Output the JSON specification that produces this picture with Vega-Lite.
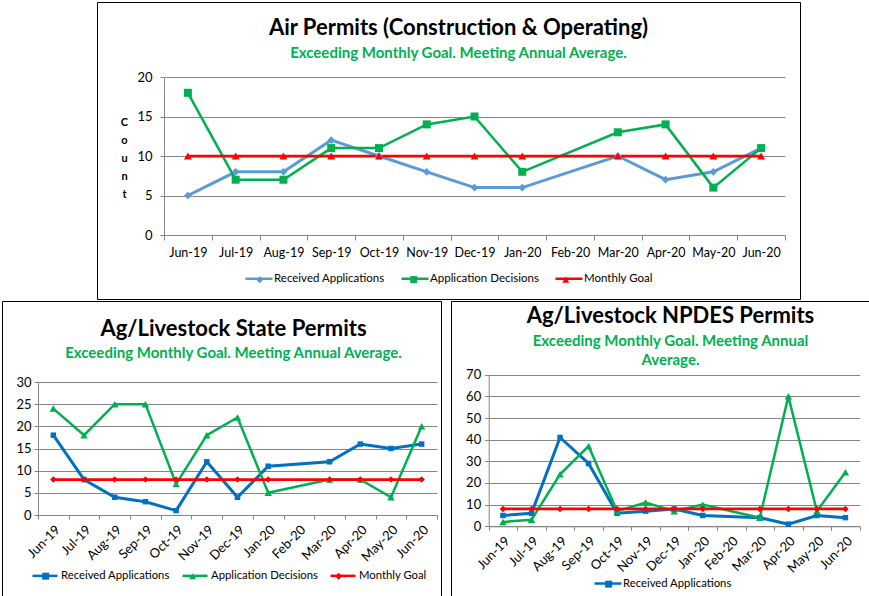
{
  "$schema": "https://vega.github.io/schema/vega-lite/v6.json",
  "padding": {"left": 1, "top": 1, "right": 0, "bottom": 0},
  "background": "white",
  "spacing": 0,
  "resolve": {"scale": {"color": "independent", "fill": "independent", "stroke": "independent", "shape": "independent", "size": "independent", "strokeWidth": "independent"}, "legend": {"color": "independent", "fill": "independent", "stroke": "independent", "shape": "independent", "size": "independent", "strokeWidth": "independent"}},
  "config": {
    "font": "Lato",
    "view": {"stroke": "#000000", "strokeWidth": 1},
    "title": {"fontWeight": "bold", "color": "#000000", "subtitleColor": "#00B050", "subtitleFontWeight": "bold", "subtitleFont": "Lato", "font": "Lato"},
    "axis": {"labelColor": "#000000", "domainColor": "#868686", "tickColor": "#868686", "gridColor": "#868686", "labelOverlap": false, "labelFont": "Lato"},
    "legend": {"labelColor": "#000000", "labelFont": "Lato", "symbolOpacity": 1, "padding": 0, "direction": "horizontal", "title": null, "orient": "none", "rowPadding": 0}
  },
  "datasets": {
    "air": [
      {"month": "Jun-19", "series": "Received Applications", "value": 5},
      {"month": "Jul-19", "series": "Received Applications", "value": 8},
      {"month": "Aug-19", "series": "Received Applications", "value": 8},
      {"month": "Sep-19", "series": "Received Applications", "value": 12},
      {"month": "Oct-19", "series": "Received Applications", "value": 10},
      {"month": "Nov-19", "series": "Received Applications", "value": 8},
      {"month": "Dec-19", "series": "Received Applications", "value": 6},
      {"month": "Jan-20", "series": "Received Applications", "value": 6},
      {"month": "Mar-20", "series": "Received Applications", "value": 10},
      {"month": "Apr-20", "series": "Received Applications", "value": 7},
      {"month": "May-20", "series": "Received Applications", "value": 8},
      {"month": "Jun-20", "series": "Received Applications", "value": 11},
      {"month": "Jun-19", "series": "Application Decisions", "value": 18},
      {"month": "Jul-19", "series": "Application Decisions", "value": 7},
      {"month": "Aug-19", "series": "Application Decisions", "value": 7},
      {"month": "Sep-19", "series": "Application Decisions", "value": 11},
      {"month": "Oct-19", "series": "Application Decisions", "value": 11},
      {"month": "Nov-19", "series": "Application Decisions", "value": 14},
      {"month": "Dec-19", "series": "Application Decisions", "value": 15},
      {"month": "Jan-20", "series": "Application Decisions", "value": 8},
      {"month": "Mar-20", "series": "Application Decisions", "value": 13},
      {"month": "Apr-20", "series": "Application Decisions", "value": 14},
      {"month": "May-20", "series": "Application Decisions", "value": 6},
      {"month": "Jun-20", "series": "Application Decisions", "value": 11},
      {"month": "Jun-19", "series": "Monthly Goal", "value": 10},
      {"month": "Jul-19", "series": "Monthly Goal", "value": 10},
      {"month": "Aug-19", "series": "Monthly Goal", "value": 10},
      {"month": "Sep-19", "series": "Monthly Goal", "value": 10},
      {"month": "Oct-19", "series": "Monthly Goal", "value": 10},
      {"month": "Nov-19", "series": "Monthly Goal", "value": 10},
      {"month": "Dec-19", "series": "Monthly Goal", "value": 10},
      {"month": "Jan-20", "series": "Monthly Goal", "value": 10},
      {"month": "Mar-20", "series": "Monthly Goal", "value": 10},
      {"month": "Apr-20", "series": "Monthly Goal", "value": 10},
      {"month": "May-20", "series": "Monthly Goal", "value": 10},
      {"month": "Jun-20", "series": "Monthly Goal", "value": 10}
    ],
    "state": [
      {"month": "Jun-19", "series": "Received Applications", "value": 18},
      {"month": "Jul-19", "series": "Received Applications", "value": 8},
      {"month": "Aug-19", "series": "Received Applications", "value": 4},
      {"month": "Sep-19", "series": "Received Applications", "value": 3},
      {"month": "Oct-19", "series": "Received Applications", "value": 1},
      {"month": "Nov-19", "series": "Received Applications", "value": 12},
      {"month": "Dec-19", "series": "Received Applications", "value": 4},
      {"month": "Jan-20", "series": "Received Applications", "value": 11},
      {"month": "Mar-20", "series": "Received Applications", "value": 12},
      {"month": "Apr-20", "series": "Received Applications", "value": 16},
      {"month": "May-20", "series": "Received Applications", "value": 15},
      {"month": "Jun-20", "series": "Received Applications", "value": 16},
      {"month": "Jun-19", "series": "Application Decisions", "value": 24},
      {"month": "Jul-19", "series": "Application Decisions", "value": 18},
      {"month": "Aug-19", "series": "Application Decisions", "value": 25},
      {"month": "Sep-19", "series": "Application Decisions", "value": 25},
      {"month": "Oct-19", "series": "Application Decisions", "value": 7},
      {"month": "Nov-19", "series": "Application Decisions", "value": 18},
      {"month": "Dec-19", "series": "Application Decisions", "value": 22},
      {"month": "Jan-20", "series": "Application Decisions", "value": 5},
      {"month": "Mar-20", "series": "Application Decisions", "value": 8},
      {"month": "Apr-20", "series": "Application Decisions", "value": 8},
      {"month": "May-20", "series": "Application Decisions", "value": 4},
      {"month": "Jun-20", "series": "Application Decisions", "value": 20},
      {"month": "Jun-19", "series": "Monthly Goal", "value": 8},
      {"month": "Jul-19", "series": "Monthly Goal", "value": 8},
      {"month": "Aug-19", "series": "Monthly Goal", "value": 8},
      {"month": "Sep-19", "series": "Monthly Goal", "value": 8},
      {"month": "Oct-19", "series": "Monthly Goal", "value": 8},
      {"month": "Nov-19", "series": "Monthly Goal", "value": 8},
      {"month": "Dec-19", "series": "Monthly Goal", "value": 8},
      {"month": "Jan-20", "series": "Monthly Goal", "value": 8},
      {"month": "Mar-20", "series": "Monthly Goal", "value": 8},
      {"month": "Apr-20", "series": "Monthly Goal", "value": 8},
      {"month": "May-20", "series": "Monthly Goal", "value": 8},
      {"month": "Jun-20", "series": "Monthly Goal", "value": 8}
    ],
    "npdes": [
      {"month": "Jun-19", "series": "Received Applications", "value": 5},
      {"month": "Jul-19", "series": "Received Applications", "value": 6},
      {"month": "Aug-19", "series": "Received Applications", "value": 41},
      {"month": "Sep-19", "series": "Received Applications", "value": 29},
      {"month": "Oct-19", "series": "Received Applications", "value": 6},
      {"month": "Nov-19", "series": "Received Applications", "value": 7},
      {"month": "Dec-19", "series": "Received Applications", "value": 8},
      {"month": "Jan-20", "series": "Received Applications", "value": 5},
      {"month": "Mar-20", "series": "Received Applications", "value": 4},
      {"month": "Apr-20", "series": "Received Applications", "value": 1},
      {"month": "May-20", "series": "Received Applications", "value": 5},
      {"month": "Jun-20", "series": "Received Applications", "value": 4},
      {"month": "Jun-19", "series": "Application Decisions", "value": 2},
      {"month": "Jul-19", "series": "Application Decisions", "value": 3},
      {"month": "Aug-19", "series": "Application Decisions", "value": 24},
      {"month": "Sep-19", "series": "Application Decisions", "value": 37},
      {"month": "Oct-19", "series": "Application Decisions", "value": 7},
      {"month": "Nov-19", "series": "Application Decisions", "value": 11},
      {"month": "Dec-19", "series": "Application Decisions", "value": 7},
      {"month": "Jan-20", "series": "Application Decisions", "value": 10},
      {"month": "Mar-20", "series": "Application Decisions", "value": 4},
      {"month": "Apr-20", "series": "Application Decisions", "value": 60},
      {"month": "May-20", "series": "Application Decisions", "value": 7},
      {"month": "Jun-20", "series": "Application Decisions", "value": 25},
      {"month": "Jun-19", "series": "Monthly Goal", "value": 8},
      {"month": "Jul-19", "series": "Monthly Goal", "value": 8},
      {"month": "Aug-19", "series": "Monthly Goal", "value": 8},
      {"month": "Sep-19", "series": "Monthly Goal", "value": 8},
      {"month": "Oct-19", "series": "Monthly Goal", "value": 8},
      {"month": "Nov-19", "series": "Monthly Goal", "value": 8},
      {"month": "Dec-19", "series": "Monthly Goal", "value": 8},
      {"month": "Jan-20", "series": "Monthly Goal", "value": 8},
      {"month": "Mar-20", "series": "Monthly Goal", "value": 8},
      {"month": "Apr-20", "series": "Monthly Goal", "value": 8},
      {"month": "May-20", "series": "Monthly Goal", "value": 8},
      {"month": "Jun-20", "series": "Monthly Goal", "value": 8}
    ]
  },
  "vconcat": [
    {
      "spacing": 8,
      "resolve": {"scale": {"color": "independent", "fill": "independent", "stroke": "independent", "shape": "independent", "size": "independent", "strokeWidth": "independent"}, "legend": {"color": "independent", "fill": "independent", "stroke": "independent", "shape": "independent", "size": "independent", "strokeWidth": "independent"}},
      "hconcat": [
        {"width": 86, "height": 10, "view": {"stroke": null}, "data": {"values": []}, "mark": "point"},
        {
          "width": 703, "height": 297,
          "data": {"name": "air"},
          "title": {"text": "Air Permits (Construction & Operating)", "subtitle": "Exceeding Monthly Goal. Meeting Annual Average.", "fontSize": 22, "subtitleFontSize": 15, "subtitlePadding": 6.5, "offset": -60, "dx": 10, "anchor": "middle", "frame": "group"},
          "encoding": {
            "x": {"field": "month", "type": "ordinal", "bandPosition": 0.5,
              "scale": {"type": "band", "domain": ["Jun-19","Jul-19","Aug-19","Sep-19","Oct-19","Nov-19","Dec-19","Jan-20","Feb-20","Mar-20","Apr-20","May-20","Jun-20"], "range": [67, 688], "paddingInner": 0, "paddingOuter": 0},
              "axis": {"orient": "bottom", "offset": -64, "tickBand": "extent", "tickSize": 5, "labelPadding": 6, "labelAngle": 0, "labelFontSize": 12.5, "title": null, "grid": false}},
            "y": {"field": "value", "type": "quantitative",
              "scale": {"domain": [0, 20], "range": [233, 75], "nice": false},
              "axis": {"orient": "left", "offset": -67, "values": [0, 5, 10, 15, 20], "grid": true, "tickSize": 4, "labelPadding": 8, "labelFontSize": 13,
                "title": ["C", "o", "u", "n", "t"], "titleAngle": 0, "titleX": -40, "titleY": 120, "titleAlign": "center", "titleBaseline": "middle", "titleLineHeight": 18, "titleFontSize": 11, "titleFontWeight": "bold", "titleColor": "#000000"}}
          },
          "layer": [
            {"mark": {"type": "line"},
             "encoding": {
               "color": {"field": "series", "type": "nominal", "sort": ["Received Applications", "Application Decisions", "Monthly Goal"], "scale": {"range": ["#5B9BD5", "#00B050", "#FF0000"]},
                 "legend": {"legendX": 147, "legendY": 261.5, "symbolType": "stroke", "symbolSize": 729, "symbolStrokeWidth": 2.5, "labelOffset": 0, "columnPadding": 11, "labelFontSize": 11.5}},
               "strokeWidth": {"field": "series", "type": "nominal", "scale": {"range": [2.5, 3, 2.5]}, "legend": null},
               "order": {"value": null}}},
            {"mark": {"type": "point", "filled": true, "opacity": 1},
             "encoding": {
               "fill": {"field": "series", "type": "nominal", "scale": {"domain": ["Received Applications", "Application Decisions", "Monthly Goal"], "range": ["#5B9BD5", "#00B050", "#FF0000"]},
                 "legend": {"legendX": 157, "legendY": 271.5, "symbolSize": 49, "symbolStrokeWidth": 0, "labelOffset": 10, "columnPadding": 21, "labelFontSize": 11.5, "labelOpacity": 0}},
               "shape": {"field": "series", "type": "nominal", "scale": {"domain": ["Received Applications", "Application Decisions", "Monthly Goal"], "range": ["diamond", "square", "triangle-up"]},
                 "legend": {"legendX": 157, "legendY": 271.5, "symbolSize": 49, "symbolStrokeWidth": 0, "labelOffset": 10, "columnPadding": 21, "labelFontSize": 11.5, "labelOpacity": 0}},
               "size": {"field": "series", "type": "nominal", "scale": {"range": [64, 60, 40]}, "legend": null}}}
          ]
        }
      ]
    },
    {
      "spacing": 8,
      "resolve": {"scale": {"color": "independent", "fill": "independent", "stroke": "independent", "shape": "independent", "size": "independent", "strokeWidth": "independent"}, "legend": {"color": "independent", "fill": "independent", "stroke": "independent", "shape": "independent", "size": "independent", "strokeWidth": "independent"}},
      "hconcat": [
        {
          "width": 439, "height": 297,
          "data": {"name": "state"},
          "title": {"text": "Ag/Livestock State Permits", "subtitle": "Exceeding Monthly Goal. Meeting Annual Average.", "fontSize": 22, "subtitleFontSize": 15, "subtitlePadding": 5, "offset": -60.5, "dx": 12, "anchor": "middle", "frame": "group"},
          "encoding": {
            "x": {"field": "month", "type": "ordinal", "bandPosition": 0.5,
              "scale": {"type": "band", "domain": ["Jun-19","Jul-19","Aug-19","Sep-19","Oct-19","Nov-19","Dec-19","Jan-20","Feb-20","Mar-20","Apr-20","May-20","Jun-20"], "range": [36, 435], "paddingInner": 0, "paddingOuter": 0},
              "axis": {"orient": "bottom", "offset": -83, "tickBand": "extent", "tickSize": 4, "labelPadding": 4, "labelAngle": -45, "labelFontSize": 13, "title": null, "grid": false}},
            "y": {"field": "value", "type": "quantitative",
              "scale": {"domain": [0, 30], "range": [214, 81], "nice": false},
              "axis": {"orient": "left", "offset": -36, "values": [0, 5, 10, 15, 20, 25, 30], "grid": true, "tickSize": 4, "labelPadding": 3, "labelFontSize": 13, "title": null}}
          },
          "layer": [
            {"mark": {"type": "line"},
             "encoding": {
               "color": {"field": "series", "type": "nominal", "sort": ["Received Applications", "Application Decisions", "Monthly Goal"], "scale": {"range": ["#0070C0", "#00B050", "#FF0000"]},
                 "legend": {"legendX": 29, "legendY": 260.5, "symbolType": "stroke", "symbolSize": 625, "symbolStrokeWidth": 2.5, "labelOffset": 2, "columnPadding": 7, "labelFontSize": 11.3}},
               "strokeWidth": {"field": "series", "type": "nominal", "scale": {"range": [2.5, 3, 2.5]}, "legend": null},
               "order": {"value": null}}},
            {"mark": {"type": "point", "filled": true, "opacity": 1},
             "encoding": {
               "fill": {"field": "series", "type": "nominal", "scale": {"domain": ["Received Applications", "Application Decisions", "Monthly Goal"], "range": ["#0070C0", "#00B050", "#FF0000"]},
                 "legend": {"legendX": 38, "legendY": 269.5, "symbolSize": 49, "symbolStrokeWidth": 0, "labelOffset": 11, "columnPadding": 16, "labelFontSize": 11.3, "labelOpacity": 0}},
               "shape": {"field": "series", "type": "nominal", "scale": {"domain": ["Received Applications", "Application Decisions", "Monthly Goal"], "range": ["square", "triangle-up", "diamond"]},
                 "legend": {"legendX": 38, "legendY": 269.5, "symbolSize": 49, "symbolStrokeWidth": 0, "labelOffset": 11, "columnPadding": 16, "labelFontSize": 11.3, "labelOpacity": 0}},
               "size": {"field": "series", "type": "nominal", "scale": {"range": [56, 30, 56]}, "legend": null}}}
          ]
        },
        {
          "width": 419, "height": 297,
          "data": {"name": "npdes"},
          "title": {"text": "Ag/Livestock NPDES Permits", "subtitle": ["Exceeding Monthly Goal. Meeting Annual", "Average."], "fontSize": 22, "subtitleFontSize": 15, "subtitleLineHeight": 19, "subtitlePadding": 5.5, "offset": -67.5, "dx": 10, "anchor": "middle", "frame": "group"},
          "encoding": {
            "x": {"field": "month", "type": "ordinal", "bandPosition": 0.5,
              "scale": {"type": "band", "domain": ["Jun-19","Jul-19","Aug-19","Sep-19","Oct-19","Nov-19","Dec-19","Jan-20","Feb-20","Mar-20","Apr-20","May-20","Jun-20"], "range": [37.7, 408.7], "paddingInner": 0, "paddingOuter": 0},
              "axis": {"orient": "bottom", "offset": -71.7, "tickBand": "extent", "tickSize": 4, "labelPadding": 4, "labelAngle": -45, "labelFontSize": 13, "title": null, "grid": false}},
            "y": {"field": "value", "type": "quantitative",
              "scale": {"domain": [0, 70], "range": [225.3, 73.7], "nice": false},
              "axis": {"orient": "left", "offset": -37.7, "values": [0, 10, 20, 30, 40, 50, 60, 70], "grid": true, "tickSize": 4, "labelPadding": 4, "labelFontSize": 13, "title": null}}
          },
          "layer": [
            {"mark": {"type": "line"},
             "encoding": {
               "color": {"field": "series", "type": "nominal", "sort": ["Received Applications", "Application Decisions", "Monthly Goal"], "scale": {"range": ["#0070C0", "#00B050", "#FF0000"]},
                 "legend": {"values": ["Received Applications"], "legendX": 142, "legendY": 267.5, "symbolType": "stroke", "symbolSize": 729, "symbolStrokeWidth": 2.5, "labelOffset": 0, "columnPadding": 5, "labelFontSize": 11.3}},
               "strokeWidth": {"field": "series", "type": "nominal", "scale": {"range": [2.5, 3, 2.5]}, "legend": null},
               "order": {"value": null}}},
            {"mark": {"type": "point", "filled": true, "opacity": 1},
             "encoding": {
               "fill": {"field": "series", "type": "nominal", "scale": {"domain": ["Received Applications", "Application Decisions", "Monthly Goal"], "range": ["#0070C0", "#00B050", "#FF0000"]},
                 "legend": {"values": ["Received Applications"], "legendX": 152, "legendY": 277.5, "symbolSize": 49, "symbolStrokeWidth": 0, "labelOffset": 10, "columnPadding": 15, "labelFontSize": 11.3, "labelOpacity": 0}},
               "shape": {"field": "series", "type": "nominal", "scale": {"domain": ["Received Applications", "Application Decisions", "Monthly Goal"], "range": ["square", "triangle-up", "diamond"]},
                 "legend": {"values": ["Received Applications"], "legendX": 152, "legendY": 277.5, "symbolSize": 49, "symbolStrokeWidth": 0, "labelOffset": 10, "columnPadding": 15, "labelFontSize": 11.3, "labelOpacity": 0}},
               "size": {"field": "series", "type": "nominal", "scale": {"range": [56, 30, 56]}, "legend": null}}}
          ]
        }
      ]
    }
  ]
}
